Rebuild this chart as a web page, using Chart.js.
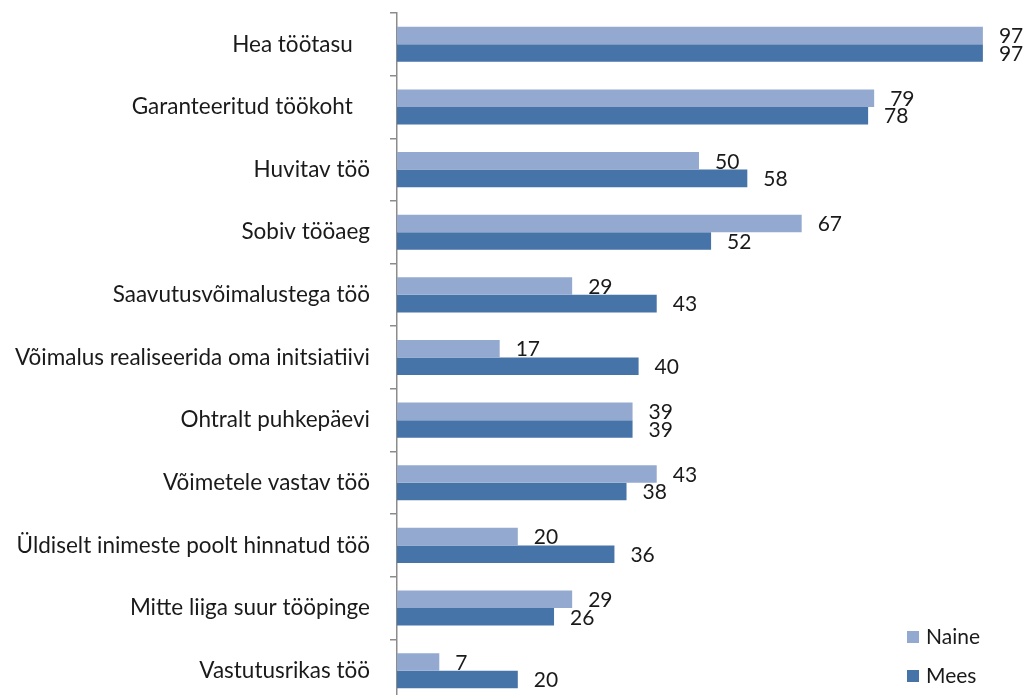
<!DOCTYPE html>
<html>
<head>
<meta charset="utf-8">
<script src="https://cdn.jsdelivr.net/npm/chart.js@4.4.1/dist/chart.umd.min.js"></script>
<style>
  html, body { margin: 0; padding: 0; background: #fff; overflow: hidden; }
</style>
</head>
<body>
<canvas id="chart" width="1026" height="716"></canvas>
<script>
var categories = [
  'Hea töötasu   ',
  'Garanteeritud töökoht   ',
  'Huvitav töö',
  'Sobiv tööaeg',
  'Saavutusvõimalustega töö',
  'Võimalus realiseerida oma initsiatiivi',
  'Ohtralt puhkepäevi',
  'Võimetele vastav töö',
  'Üldiselt inimeste poolt hinnatud töö',
  'Mitte liiga suur tööpinge',
  'Vastutusrikas töö'
]
var naine = [97, 79, 50, 67, 29, 17, 39, 43, 20, 29, 7]
var mees = [97, 78, 58, 52, 43, 40, 39, 38, 36, 26, 20]
var seriesNames = ['Naine', 'Mees']
var seriesColors = ['#93a9d0', '#4673a8']

var FONT = 'Lato, "Liberation Sans", sans-serif'

var valueLabels = {
  id: 'valueLabels',
  afterDatasetsDraw: function (chart) {
    var ctx = chart.ctx
    ctx.save()
    ctx.font = '21px ' + FONT
    ctx.fillStyle = '#1a1a1a'
    ctx.textAlign = 'left'
    ctx.textBaseline = 'middle'
    chart.data.datasets.forEach(function (ds, i) {
      chart.getDatasetMeta(i).data.forEach(function (bar, j) {
        ctx.fillText(String(ds.data[j]), bar.x + 16, bar.y + 1)
      })
    })
    ctx.restore()
  }
}

var sideLegend = {
  id: 'sideLegend',
  afterDraw: function (chart) {
    var ctx = chart.ctx
    ctx.save()
    ctx.font = '21px ' + FONT
    ctx.textBaseline = 'alphabetic'
    ctx.textAlign = 'left'
    chart.data.datasets.forEach(function (ds, i) {
      var y = 631 + i * 39
      ctx.fillStyle = ds.backgroundColor
      ctx.fillRect(907, y, 12, 12)
      ctx.fillStyle = '#1a1a1a'
      ctx.fillText(ds.label, 926, y + 13)
    })
    ctx.restore()
  }
}

new Chart(document.getElementById('chart'), {
  type: 'bar',
  data: {
    labels: categories,
    datasets: [
      { label: seriesNames[0], data: naine, backgroundColor: seriesColors[0] },
      { label: seriesNames[1], data: mees, backgroundColor: seriesColors[1] }
    ]
  },
  options: {
    indexAxis: 'y',
    responsive: false,
    animation: false,
    layout: { padding: { top: 13, right: 25, bottom: 14, left: 0 } },
    datasets: {
      bar: { barPercentage: 1, categoryPercentage: 0.56, borderWidth: 0 }
    },
    scales: {
      x: { display: false, min: 0, max: 100 },
      y: {
        afterFit: function (scale) {
          scale.width = 397
          scale.paddingTop = 0
          scale.paddingBottom = 0
        },
        border: { display: true, color: '#8c8c8c', width: 1.5 },
        grid: { offset: true, drawOnChartArea: false, drawTicks: true, tickLength: 7, color: '#8c8c8c', lineWidth: 1.5 },
        ticks: { color: '#1a1a1a', padding: 20, font: { family: FONT, size: 22.5 } }
      }
    },
    plugins: {
      legend: { display: false },
      tooltip: { enabled: false }
    }
  },
  plugins: [valueLabels, sideLegend]
})
</script>
</body>
</html>
